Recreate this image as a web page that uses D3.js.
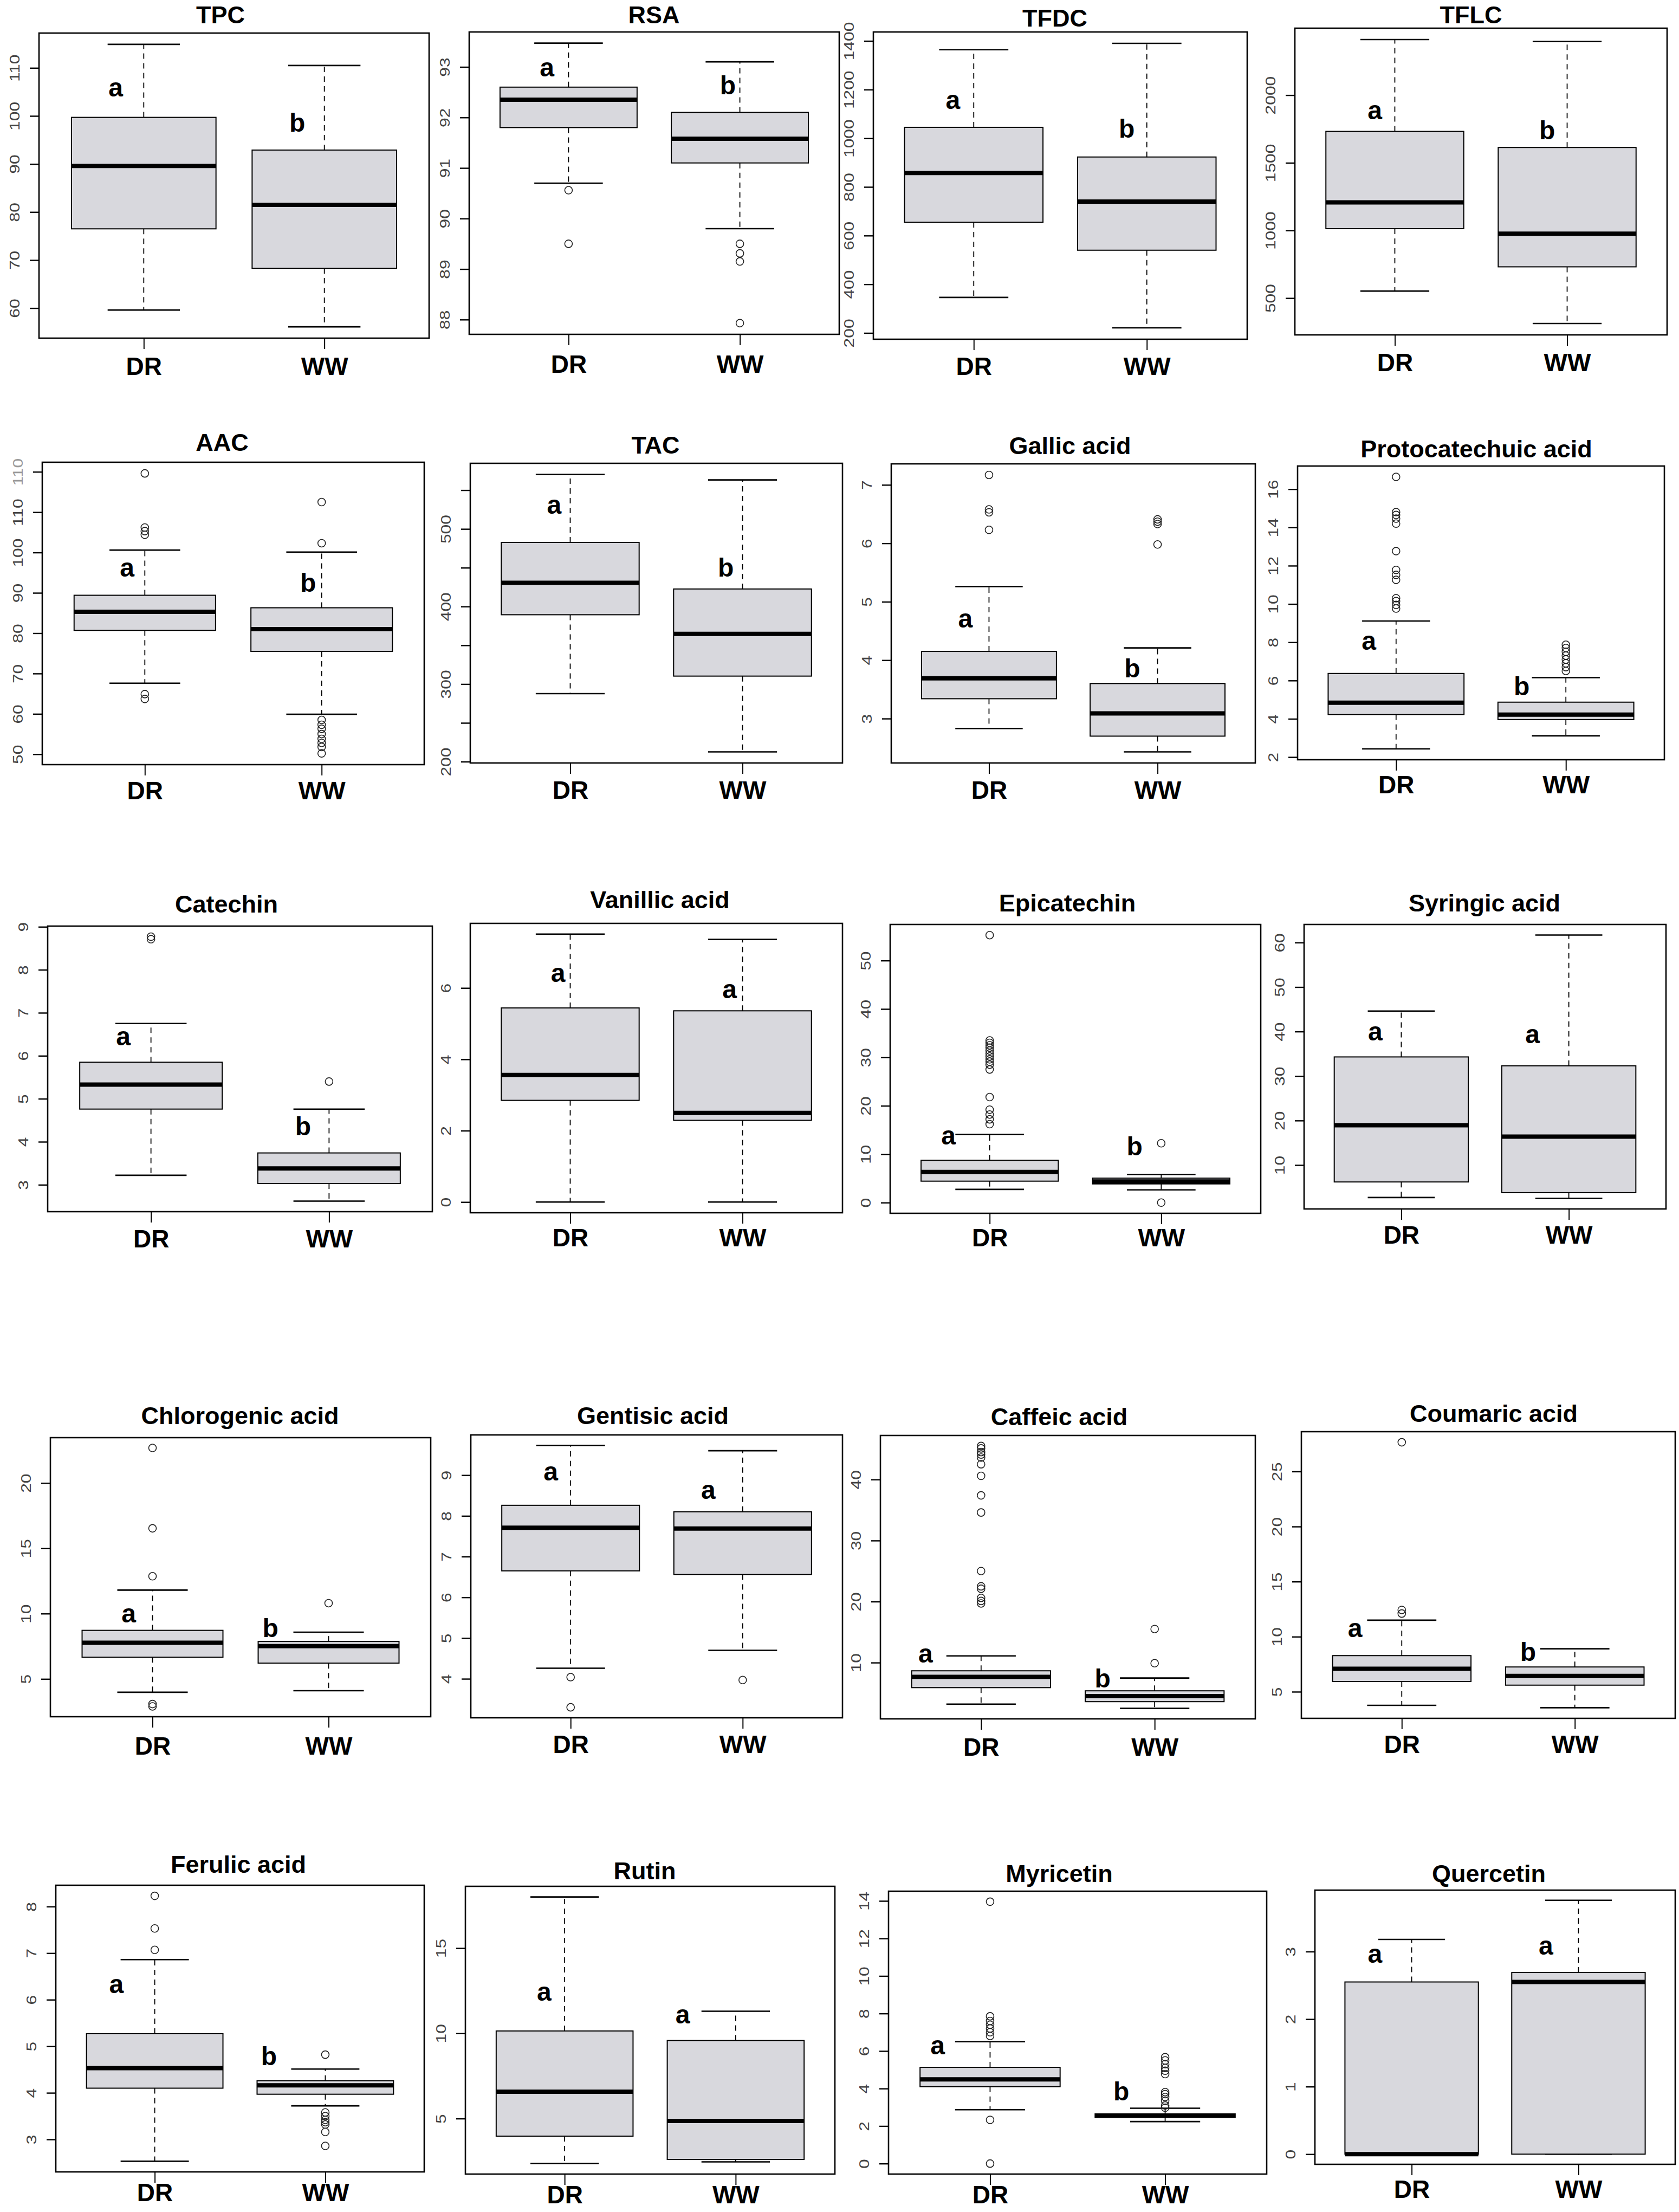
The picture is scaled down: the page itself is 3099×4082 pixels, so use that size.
<!DOCTYPE html>
<html>
<head>
<meta charset="utf-8">
<script src="https://cdn.jsdelivr.net/npm/d3@7"></script>
<style>
  body { margin: 0; background: #fff; }
  svg { display: block; }
  .title, .xlab, .letter { font-family: "Liberation Sans", Arial, sans-serif; font-weight: bold; }
  .ytick text { font-family: "Liberation Sans", Arial, sans-serif; fill: #444; }
</style>
</head>
<body>
<svg id="chart" width="3099" height="4082"></svg>
<script>
// groups and panel titles
const groups = ["DR", "WW"];
const titles = ["TPC", "RSA", "TFDC", "TFLC",
    "AAC", "TAC", "Gallic acid", "Protocatechuic acid",
    "Catechin", "Vanillic acid", "Epicatechin", "Syringic acid",
    "Chlorogenic acid", "Gentisic acid", "Caffeic acid", "Coumaric acid",
    "Ferulic acid", "Rutin", "Myricetin", "Quercetin"];

// box stats per panel: [lower whisker, Q1, median, Q3, upper whisker]
const boxDR = [
    [59.6, 76.5, 89.6, 99.7, 114.9],
    [90.7, 91.8, 92.35, 92.6, 93.47],
    [346, 655, 857, 1045, 1364],
    [552, 1013, 1207, 1732, 2411],
    [67.6, 80.7, 85.3, 89.4, 100.6],
    [287.7, 389.4, 430.6, 482.6, 570.3],
    [2.83, 3.34, 3.69, 4.15, 5.26],
    [2.43, 4.22, 4.84, 6.37, 9.11],
    [3.22, 4.76, 5.33, 5.85, 6.75],
    [0, 2.85, 3.56, 5.44, 7.51],
    [2.73, 4.43, 6.33, 8.75, 14.06],
    [2.7, 6.2, 18.96, 34.3, 44.6],
    [3.98, 6.66, 7.77, 8.72, 11.8],
    [4.26, 6.65, 7.71, 8.26, 9.73],
    [3.2, 5.9, 7.67, 8.66, 11.1],
    [3.77, 5.93, 7.09, 8.28, 11.5],
    [2.53, 4.1, 4.53, 5.27, 6.86],
    [2.37, 3.97, 6.58, 10.14, 18.0],
    [2.87, 4.1, 4.49, 5.13, 6.5],
    [0, 0, 0, 2.55, 3.18]
];
const boxWW = [
    [56.1, 68.3, 81.5, 92.9, 110.5],
    [89.8, 91.1, 91.58, 92.1, 93.1],
    [221, 540, 740, 923, 1390],
    [312, 731, 976, 1613, 2397],
    [59.9, 75.5, 81, 86.3, 100.1],
    [212.6, 310.3, 364.8, 422.6, 563.2],
    [2.43, 2.7, 3.09, 3.6, 4.21],
    [3.11, 3.96, 4.22, 4.87, 6.15],
    [2.62, 3.03, 3.38, 3.74, 4.76],
    [0, 2.29, 2.5, 5.36, 7.36],
    [2.63, 3.86, 4.38, 5.05, 5.82],
    [2.5, 3.8, 16.4, 32.3, 61.7],
    [4.1, 6.21, 7.51, 7.87, 8.58],
    [4.7, 6.56, 7.69, 8.1, 9.6],
    [2.5, 3.6, 4.51, 5.38, 7.47],
    [3.55, 5.6, 6.43, 7.25, 8.9],
    [3.72, 3.97, 4.16, 4.26, 4.51],
    [2.46, 2.6, 4.86, 9.58, 11.3],
    [2.24, 2.46, 2.56, 2.65, 2.95],
    [0, 0, 2.55, 2.69, 3.76]
];

// outliers per panel
const outDR = [
    [],
    [90.56, 89.5],
    [],
    [],
    [119.6, 106.2, 105.3, 104.4, 64.9, 63.7],
    [],
    [7.17, 6.58, 6.53, 6.23],
    [16.64, 14.8, 14.65, 14.46, 14.2, 12.76, 11.78, 11.52, 11.26, 10.3, 10.15, 9.95, 9.76],
    [8.77, 8.71],
    [],
    [55.25, 33.5, 33, 32.5, 32, 31.4, 30.8, 30.2, 29.6, 29.1, 28.5, 27.5, 21.8, 19.2, 18.2, 17.2, 16.2],
    [],
    [22.68, 16.53, 12.86, 3.08, 2.9],
    [4.04, 3.3],
    [45.5, 45.1, 44.5, 44.1, 43.6, 42.5, 40.6, 37.4, 34.6, 25.0, 22.5, 22.1, 20.6, 20.1, 19.7],
    [27.65, 12.43, 12.1],
    [8.23, 7.53, 7.07],
    [],
    [13.96, 7.85, 7.6, 7.4, 7.2, 7.0, 6.8, 2.33, 0],
    []
];
const outWW = [
    [],
    [89.5, 89.31, 89.15, 87.93],
    [],
    [],
    [112.5, 102.3, 58.5, 57.3, 56.3, 55, 53.8, 52.8, 51.8, 50.2],
    [],
    [6.41, 6.37, 6.33, 5.98],
    [7.87, 7.7, 7.5, 7.3, 7.1, 6.9, 6.7, 6.5],
    [5.4],
    [],
    [12.26, 0],
    [],
    [10.8],
    [3.97],
    [15.5, 9.9],
    [],
    [4.82, 3.58, 3.5, 3.42, 3.37, 3.32, 3.16, 2.86],
    [],
    [5.67, 5.5, 5.3, 5.1, 4.95, 4.77, 3.81, 3.7, 3.55, 3.35, 3.1, 2.98],
    []
];

// y tick values and their printed labels ("" = tick without label)
const yTicks = [
    [60, 70, 80, 90, 100, 110],
    [88, 89, 90, 91, 92, 93],
    [200, 400, 600, 800, 1000, 1200, 1400],
    [500, 1000, 1500, 2000],
    [50, 60, 70, 80, 90, 100, 110, 120],
    [200, 250, 300, 350, 400, 450, 500, 550],
    [3, 4, 5, 6, 7],
    [2, 4, 6, 8, 10, 12, 14, 16],
    [3, 4, 5, 6, 7, 8, 9],
    [0, 2, 4, 6],
    [0, 10, 20, 30, 40, 50],
    [10, 20, 30, 40, 50, 60],
    [5, 10, 15, 20],
    [4, 5, 6, 7, 8, 9],
    [10, 20, 30, 40],
    [5, 10, 15, 20, 25],
    [3, 4, 5, 6, 7, 8],
    [5, 10, 15],
    [0, 2, 4, 6, 8, 10, 12, 14],
    [0, 1, 2, 3]
];
const yLabels = yTicks.map(t => t.map(String));
yLabels[4] = ["50", "60", "70", "80", "90", "100", "110", "110"];
yLabels[5] = ["200", "", "300", "", "400", "", "500", ""];

// significance letters
const letterDR = ["a", "a", "a", "a", "a", "a", "a", "a", "a", "a",
    "a", "a", "a", "a", "a", "a", "a", "a", "a", "a"];
const letterWW = ["b", "b", "b", "b", "b", "b", "b", "b", "b", "a",
    "b", "a", "b", "a", "b", "b", "b", "a", "b", "a"];

// layout: frame [x0, y0, x1, y1, titleX, titleY, x-label offset]
const frames = [
    [72, 61, 792, 624, 407, 27, 52],
    [866, 59, 1549, 617, 1207, 27, 55],
    [1612, 59, 2302, 626, 1947, 33, 50],
    [2390, 52, 3077, 618, 2715, 27, 51],
    [78, 853, 783, 1411, 410, 816, 48],
    [868, 855, 1555, 1408, 1210, 821, 50],
    [1645, 856, 2317, 1408, 1975, 822, 50],
    [2395, 860, 3072, 1402, 2725, 828, 46],
    [88, 1709, 798, 2236, 418, 1668, 50],
    [868, 1704, 1555, 2238, 1218, 1660, 46],
    [1643, 1706, 2327, 2239, 1970, 1666, 45],
    [2407, 1706, 3075, 2231, 2740, 1666, 48],
    [93, 2653, 795, 3168, 443, 2612, 54],
    [869, 2648, 1555, 3170, 1205, 2612, 49],
    [1625, 2649, 2317, 3172, 1955, 2614, 52],
    [2402, 2642, 3092, 3171, 2757, 2608, 48],
    [103, 3479, 783, 4008, 440, 3440, 38],
    [859, 3481, 1541, 4012, 1190, 3452, 38],
    [1640, 3490, 2338, 4012, 1955, 3457, 38],
    [2427, 3488, 3092, 3994, 2748, 3457, 46]
];
// letter anchors: [dx DR, y DR, dx WW, y WW] (dx in group units, y in data units)
const letterPos = [
    [-0.155, 105.4, -0.15, 98.6],
    [-0.126, 92.94, -0.07, 92.64],
    [-0.12, 1148, -0.116, 1040],
    [-0.116, 1871, -0.116, 1742],
    [-0.1, 95.7, -0.077, 92.6],
    [-0.093, 528, -0.097, 450.6],
    [-0.14, 4.67, -0.15, 3.86],
    [-0.16, 7.94, -0.26, 5.72],
    [-0.155, 6.39, -0.146, 4.36],
    [-0.07, 6.35, -0.075, 5.9],
    [-0.24, 13.3, -0.155, 11.7],
    [-0.155, 39.5, -0.217, 38.8],
    [-0.135, 9.83, -0.33, 8.9],
    [-0.115, 9.03, -0.2, 8.58],
    [-0.32, 11.1, -0.3, 7.4],
    [-0.27, 10.56, -0.27, 8.64],
    [-0.225, 6.28, -0.33, 4.79],
    [-0.12, 12.3, -0.31, 10.96],
    [-0.3, 6.18, -0.25, 3.87],
    [-0.22, 2.93, -0.195, 3.05]
];

const svg = d3.select("#chart");
svg.append("rect").attr("width", 3099).attr("height", 4082).attr("fill", "#fff");

const BOXW = 0.8, CAPW = 0.4;

function drawPanel(i) {
    const [x0, y0, x1, y1, tx, ty, xoff] = frames[i];
    const stats = [boxDR[i], boxWW[i]];
    const outs = [outDR[i], outWW[i]];

    // R-style range: data extent padded by 4%
    const all = stats.flat().concat(outs.flat());
    const lo = d3.min(all), hi = d3.max(all), pad = (hi - lo) * 0.04;
    const y = d3.scaleLinear().domain([lo - pad, hi + pad]).range([y1, y0]);
    const x = d3.scaleLinear().domain([0.42, 2.58]).range([x0, x1]);

    const g = svg.append("g").attr("class", "panel");

    // title
    g.append("text").attr("class", "title")
        .attr("x", tx).attr("y", ty + 16)
        .attr("text-anchor", "middle")
        .attr("font-size", 45)
        .text(titles[i]);

    stats.forEach((s, k) => {
        const cx = k + 1;
        const [wl, q1, md, q3, wh] = s;
        // whiskers
        g.append("line")
            .attr("x1", x(cx)).attr("x2", x(cx))
            .attr("y1", y(q3)).attr("y2", y(wh))
            .attr("stroke", "#000").attr("stroke-width", 1.8)
            .attr("stroke-dasharray", "10,8");
        g.append("line")
            .attr("x1", x(cx)).attr("x2", x(cx))
            .attr("y1", y(q1)).attr("y2", y(wl))
            .attr("stroke", "#000").attr("stroke-width", 1.8)
            .attr("stroke-dasharray", "10,8");
        // staples
        [wl, wh].forEach(v => {
            g.append("line")
                .attr("x1", x(cx - CAPW / 2)).attr("x2", x(cx + CAPW / 2))
                .attr("y1", y(v)).attr("y2", y(v))
                .attr("stroke", "#000").attr("stroke-width", 2.6);
        });
        // box
        g.append("rect")
            .attr("x", x(cx - BOXW / 2))
            .attr("width", x(cx + BOXW / 2) - x(cx - BOXW / 2))
            .attr("y", y(q3))
            .attr("height", Math.max(0, y(q1) - y(q3)))
            .attr("fill", "#d8d8dd")
            .attr("stroke", "#000").attr("stroke-width", 2);
        // median
        g.append("line")
            .attr("x1", x(cx - BOXW / 2)).attr("x2", x(cx + BOXW / 2))
            .attr("y1", y(md)).attr("y2", y(md))
            .attr("stroke", "#000").attr("stroke-width", 8);
        // outliers
        g.selectAll(null)
            .data(outs[k])
            .join("circle")
            .attr("cx", x(cx)).attr("cy", d => y(d))
            .attr("r", 7)
            .attr("fill", "none")
            .attr("stroke", "#222").attr("stroke-width", 1.6);
    });

    // letters
    const lp = letterPos[i];
    [[letterDR[i], 1 + lp[0], lp[1]], [letterWW[i], 2 + lp[2], lp[3]]].forEach(([t, lx, ly]) => {
        g.append("text").attr("class", "letter")
            .attr("x", x(lx)).attr("y", y(ly) + (t === "b" ? 17 : 12))
            .attr("text-anchor", "middle")
            .attr("font-size", 48)
            .text(t);
    });

    // y axis
    const gy = g.append("g").attr("class", "ytick")
        .attr("transform", `translate(${x0},0)`)
        .call(d3.axisLeft(y).tickValues(yTicks[i]).tickSize(17).tickSizeOuter(0)
            .tickFormat((d, j) => yLabels[i][j]));
    gy.select(".domain").remove();
    gy.selectAll(".tick line").attr("stroke", "#000").attr("stroke-width", 2.4);
    gy.selectAll(".tick text")
        .attr("x", null).attr("dy", null)
        .attr("font-size", 25)
        .attr("text-anchor", "middle")
        .attr("dominant-baseline", "central")
        .attr("transform", "translate(-45,0) rotate(-90) scale(1.27,1)");
    if (i === 4) {
        gy.selectAll(".tick text").filter(d => d === 120).style("fill", "#999");
    }

    // x axis
    const gx = g.append("g")
        .attr("transform", `translate(0,${y1})`)
        .call(d3.axisBottom(x).tickValues([1, 2]).tickSize(20).tickSizeOuter(0)
            .tickFormat((d, j) => groups[j]));
    gx.select(".domain").remove();
    gx.selectAll(".tick line").attr("stroke", "#000").attr("stroke-width", 2);
    gx.selectAll(".tick text")
        .attr("class", "xlab")
        .attr("y", xoff - 17).attr("dy", "0.71em")
        .attr("font-size", 46)
        .attr("fill", "#000");

    // frame
    g.append("rect")
        .attr("x", x0).attr("y", y0)
        .attr("width", x1 - x0).attr("height", y1 - y0)
        .attr("fill", "none")
        .attr("stroke", "#000").attr("stroke-width", 2.6);
}

titles.forEach((t, i) => drawPanel(i));
</script>
</body>
</html>
